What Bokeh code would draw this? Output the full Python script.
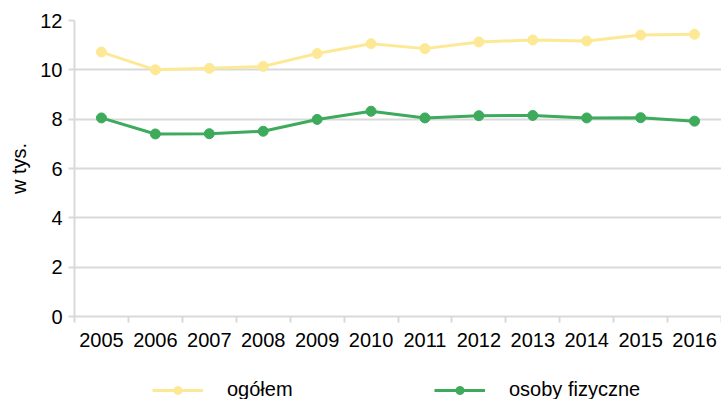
from bokeh.plotting import figure
from bokeh.layouts import column
from bokeh.models import Legend, LegendItem, FixedTicker
from bokeh.embed import file_html
from bokeh.resources import INLINE

years = [2005, 2006, 2007, 2008, 2009, 2010, 2011, 2012, 2013, 2014, 2015, 2016]
ogolem = [10.72, 10.00, 10.06, 10.14, 10.66, 11.06, 10.86, 11.13, 11.21, 11.17, 11.41, 11.44]
osoby_fizyczne = [8.05, 7.40, 7.41, 7.51, 7.99, 8.32, 8.05, 8.14, 8.15, 8.05, 8.06, 7.92]
y_ticks = [0, 2, 4, 6, 8, 10, 12]
series_names = ["ogółem", "osoby fizyczne"]

YELLOW = "#FDE995"
GREEN = "#3DAA5C"
FONT = "Liberation Sans"
FS = "20px"

p = figure(width=721, height=360,
           x_range=(years[0] - 0.5, years[-1] + 0.5), y_range=(y_ticks[0], y_ticks[-1]),
           output_backend="svg", toolbar_location=None,
           min_border_left=74, min_border_right=0, min_border_top=20, min_border_bottom=44)
p.outline_line_color = None

p.line(years, ogolem, line_color=YELLOW, line_width=3)
p.scatter(years, ogolem, size=10, fill_color=YELLOW, line_color=YELLOW)
p.line(years, osoby_fizyczne, line_color=GREEN, line_width=3)
p.scatter(years, osoby_fizyczne, size=10, fill_color=GREEN, line_color=GREEN)

# axes
p.xaxis.ticker = FixedTicker(ticks=years,
                             minor_ticks=[y - 0.5 for y in years] + [years[-1] + 0.5])
p.xaxis.major_tick_out = 0
p.xaxis.major_tick_in = 0
p.xaxis.minor_tick_out = 6
p.xaxis.minor_tick_in = 0
p.xaxis.minor_tick_line_color = "#d9d9d9"
p.xaxis.minor_tick_line_width = 2
p.xaxis.axis_line_color = "#d9d9d9"
p.xaxis.axis_line_width = 2
p.xaxis.major_label_standoff = 10
p.xaxis.major_label_text_font = FONT
p.xaxis.major_label_text_font_size = FS
p.xaxis.major_label_text_color = "#000000"

p.yaxis.ticker = FixedTicker(ticks=y_ticks, minor_ticks=[])
p.yaxis.major_tick_out = 6
p.yaxis.major_tick_in = 0
p.yaxis.major_tick_line_color = "#d9d9d9"
p.yaxis.major_tick_line_width = 2
p.yaxis.axis_line_color = "#d9d9d9"
p.yaxis.axis_line_width = 2
p.yaxis.major_label_standoff = 6
p.yaxis.major_label_text_font = FONT
p.yaxis.major_label_text_font_size = FS
p.yaxis.major_label_text_color = "#000000"
p.yaxis.axis_label = "w tys."
p.yaxis.axis_label_text_font = FONT
p.yaxis.axis_label_text_font_size = FS
p.yaxis.axis_label_text_font_style = "normal"
p.yaxis.axis_label_text_color = "#000000"
p.yaxis.axis_label_standoff = 7

p.xgrid.grid_line_color = None
p.ygrid.ticker = FixedTicker(ticks=y_ticks)
p.ygrid.grid_line_color = "#d9d9d9"
p.ygrid.grid_line_width = 2

# legend strip below the chart (its frame is aligned with the chart's frame)
lg = figure(width=721, height=39,
            x_range=(years[0] - 0.5, years[-1] + 0.5), y_range=(y_ticks[0], y_ticks[-1]),
            x_axis_type=None, y_axis_type=None,
            output_backend="svg", toolbar_location=None,
            min_border_left=74, min_border_right=0, min_border_top=0, min_border_bottom=0)
lg.outline_line_color = None
items = []
for name, vals, col in zip(series_names, [ogolem, osoby_fizyczne], [YELLOW, GREEN]):
    r1 = lg.line(years, vals, line_color=col, line_width=3, visible=False)
    r2 = lg.scatter(years, vals, size=10, fill_color=col, line_color=col, visible=False)
    items.append(LegendItem(label=name, renderers=[r1, r2]))

legend = Legend(items=items, orientation="horizontal", location=(78, -2),
                glyph_width=51, glyph_height=20, label_standoff=24, label_width=207,
                spacing=0, padding=0, margin=0, border_line_color=None,
                background_fill_alpha=0, inactive_fill_alpha=0,
                label_text_font=FONT, label_text_font_size=FS, label_text_color="#000000")
lg.add_layout(legend, "center")

layout = column(p, lg, spacing=0)
open("out.html", "w").write(file_html(layout, INLINE))
